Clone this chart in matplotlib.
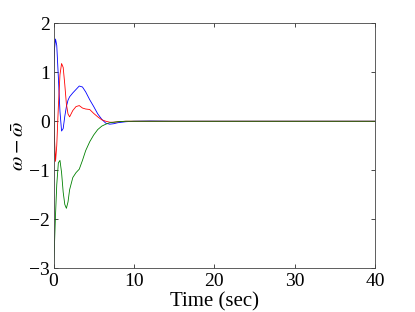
import matplotlib
matplotlib.use("Agg")
import matplotlib.pyplot as plt

t = [0, 0.1, 0.25, 0.4, 0.6, 0.8, 1.0, 1.2, 1.4, 1.6, 1.8, 2.0, 2.4, 2.8, 3.2,
     3.6, 4.0, 4.5, 5.0, 5.5, 6.0, 6.5, 7.0, 7.5, 8.0, 9.0, 10, 12, 15, 20, 40]
blue = [1.0, 1.45, 1.68, 1.55, 0.9, 0.2, -0.2, -0.15, 0.1, 0.3, 0.43, 0.5, 0.58,
        0.65, 0.72, 0.70, 0.6, 0.44, 0.3, 0.15, 0.04, -0.04, -0.06, -0.05, -0.03,
        -0.01, 0.0, 0.005, 0.0, 0.0, 0.0]
red = [0.7, -0.3, -0.82, -0.5, 0.3, 0.95, 1.18, 1.1, 0.75, 0.35, 0.15, 0.09, 0.22,
       0.3, 0.32, 0.27, 0.25, 0.24, 0.16, 0.09, 0.03, 0.0, -0.02, -0.02, -0.01,
       0.0, 0.0, 0.0, 0.0, 0.0, 0.0]
green = [-3.0, -2.6, -1.9, -1.3, -0.85, -0.8, -1.05, -1.45, -1.7, -1.78, -1.65,
         -1.4, -1.15, -1.05, -0.98, -0.8, -0.6, -0.42, -0.28, -0.17, -0.1, -0.06,
         -0.03, -0.02, -0.01, 0.0, 0.0, 0.0, 0.0, 0.0, 0.0]
xticks = [0, 10, 20, 30, 40]
yticks = [-3, -2, -1, 0, 1, 2]

plt.rcParams['font.family'] = ['Liberation Serif', 'DejaVu Serif']
plt.rcParams['mathtext.fontset'] = 'stix'

fig = plt.figure(figsize=(4.15, 3.12), dpi=100)
ax = fig.add_axes([0.129, 0.141, 0.7747, 0.784])
ax.plot(t, blue, color='#0000ff', lw=0.6)
ax.plot(t, red, color='#ff0000', lw=0.6)
ax.plot(t, green, color='#008000', lw=0.6)
ax.set_xlim(0, 40)
ax.set_ylim(-3, 2)
ax.set_xticks(xticks)
ax.set_yticks(yticks)
ax.tick_params(direction='in', top=True, right=True, labelsize=14, length=3,
               width=0.5)
ax.tick_params(axis='x', pad=3.5)
ax.tick_params(axis='y', pad=2.5)
for s in ax.spines.values():
    s.set_linewidth(0.6)
    s.set_color('#444444')
ax.set_xlabel('Time (sec)', fontsize=15, labelpad=2)
ax.set_ylabel(r'$\omega - \bar{\omega}$', fontsize=15, labelpad=0)
fig.savefig('out.png', dpi=100)
